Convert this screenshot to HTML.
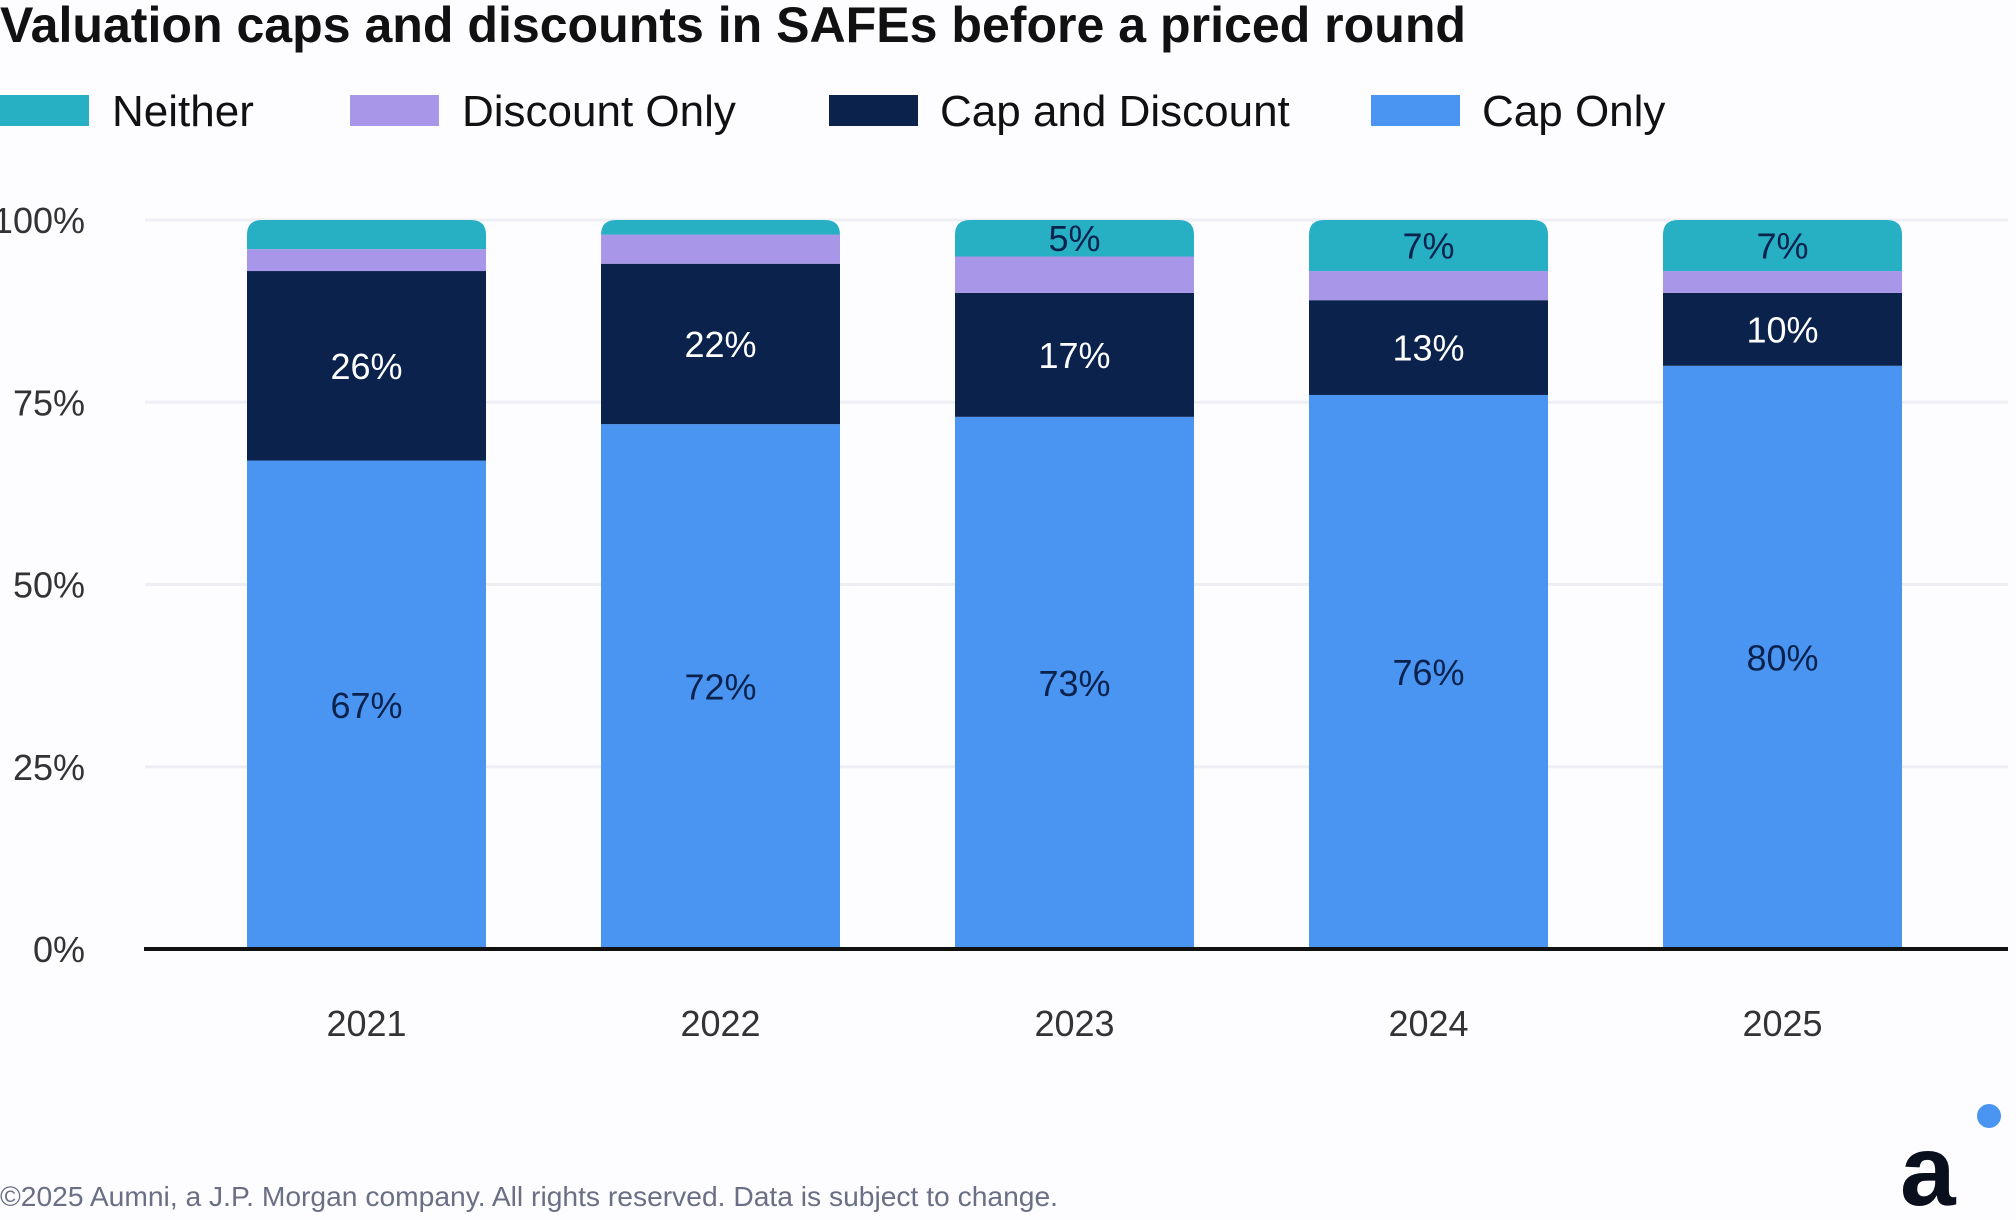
<!DOCTYPE html>
<html><head><meta charset="utf-8"><style>
html,body{margin:0;padding:0;background:#fdfdff;}
svg{display:block;font-family:"Liberation Sans",sans-serif;}
</style></head><body>
<svg id="c" width="2016" height="1220" viewBox="0 0 2016 1220">
<text x="0" y="42" font-size="50" font-weight="bold" fill="#111" textLength="1466" lengthAdjust="spacingAndGlyphs">Valuation caps and discounts in SAFEs before a priced round</text>
<g>
<rect x="0" y="95" width="89" height="31" fill="#27AFC4"/>
<text x="112" y="126" font-size="44" fill="#111">Neither</text>
<rect x="350" y="95" width="89" height="31" fill="#A897E8"/>
<text x="462" y="126" font-size="44" fill="#111">Discount Only</text>
<rect x="829" y="95" width="89" height="31" fill="#0A224C"/>
<text x="940" y="126" font-size="44" fill="#111">Cap and Discount</text>
<rect x="1371" y="95" width="89" height="31" fill="#4A94F2"/>
<text x="1482" y="126" font-size="44" fill="#111">Cap Only</text>
</g>
<g id="grid"></g><g id="bars"></g><g id="labels"></g>
<text x="0" y="1206" font-size="28" fill="#6b6f86" textLength="1058" lengthAdjust="spacingAndGlyphs">©2025 Aumni, a J.P. Morgan company. All rights reserved. Data is subject to change.</text>
<text x="1900" y="1205" font-size="100" font-weight="bold" fill="#0a0f1e">a</text>
<circle cx="1989" cy="1116" r="12" fill="#4A94F2"/>
</svg>
<script>
const categories=["2021","2022","2023","2024","2025"];
const capOnly=[67,72,73,76,80];
const capAndDiscount=[26,22,17,13,10];
const discountOnly=[3,4,5,4,3];
const neither=[4,2,5,7,7];
const yTicks=[0,25,50,75,100];
const NS="http://www.w3.org/2000/svg";
const y0=949,yTop=220,x0=247,pitch=354,bw=239;
const y=v=>y0-(v/100)*(y0-yTop);
const xb=i=>x0+i*pitch;
function mk(t,a,p){const e=document.createElementNS(NS,t);for(const k in a)e.setAttribute(k,a[k]);p.appendChild(e);return e;}
const grid=document.getElementById('grid'),bars=document.getElementById('bars'),labels=document.getElementById('labels');
yTicks.forEach(t=>{
 if(t>0){const l=mk('line',{x1:145,x2:2008,y1:y(t),y2:y(t),stroke:'#eeeef5','stroke-width':3},grid);
 
 }
 const tx=mk('text',{x:85,y:y(t)+13,'font-size':36,fill:'#333','text-anchor':'end'},grid);
 tx.textContent=t+'%';
 
 
});
const series=[[capOnly,'#4A94F2','cap-only','#0A224C',0],[capAndDiscount,'#0A224C','cap-and-discount','#fff',0],[discountOnly,'#A897E8','discount-only','#0A224C',99],[neither,'#27AFC4','neither','#0A224C',5]];
categories.forEach((c,i)=>{
 let base=0;const x=xb(i);
 series.forEach(([vals,col,nm,tc,minL],si)=>{
  const v=vals[i],top=base+v;
  let el;
  if(si===3){
   const yt=y(top),yb=y(base),r=15;
   el=mk('path',{d:`M${x},${yb}V${yt+r}Q${x},${yt} ${x+r},${yt}H${x+bw-r}Q${x+bw},${yt} ${x+bw},${yt+r}V${yb}Z`,fill:col},bars);
  } else el=mk('rect',{x:x,y:y(top),width:bw,height:y(base)-y(top),fill:col},bars);
  
  
  if(v>=minL){const t=mk('text',{x:x+bw/2,y:(y(top)+y(base))/2+13,'font-size':36,fill:tc,'text-anchor':'middle'},labels);
   t.textContent=v+'%';
   
   }
  base=top;
 });
 const xl=mk('text',{x:x+bw/2,y:1036,'font-size':36,fill:'#333','text-anchor':'middle'},labels);
 xl.textContent=c;
 
 
});
const ax=mk('line',{x1:144,x2:2008,y1:y0,y2:y0,stroke:'#111','stroke-width':4},labels);


</script>
</body></html>
